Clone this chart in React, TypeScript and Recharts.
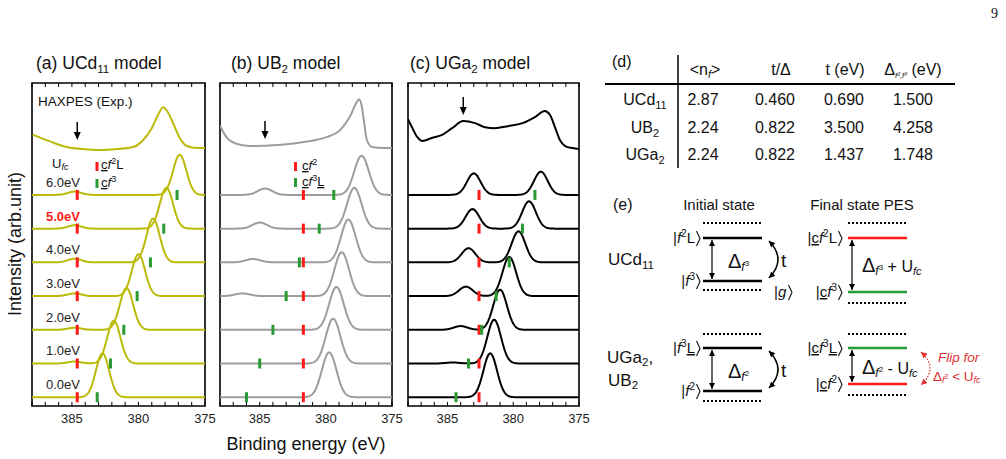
import React from 'react';
import {
  ComposedChart,
  Line,
  Scatter,
  XAxis,
  YAxis,
  ReferenceLine,
  ReferenceArea,
} from 'recharts';

const FONT = '"Liberation Sans", Arial, Helvetica, sans-serif';

// ---- shared axis settings -------------------------------------------------
const E_MIN = 375;
const E_MAX = 388;
const Y_MIN = -0.26;
const Y_MAX = 9.32;
const X_TICKS = [375, 380, 385];
const MINOR_TICKS = [375, 376, 377, 378, 379, 380, 381, 382, 383, 384, 385, 386, 387, 388];
const TICK_LEN = 0.12;

// U_fc values, one simulated trace each, stacked with unit offsets
const UFC_LABELS = ['0.0eV', '1.0eV', '2.0eV', '3.0eV', '4.0eV', '5.0eV', '6.0eV'];
const OFFSETS = [0, 1, 2, 3, 4, 5, 6];

// ---- (a) UCd11 model --------------------------------------------------------
const ucdMainE = [382.7, 381.85, 380.9, 380.0, 378.9, 377.9, 376.9];
const ucdMainH = [1.3, 1.27, 1.24, 1.24, 1.3, 1.21, 1.19];
const ucdSideE = [384.8, 384.8, 384.8, 384.8, 384.8, 384.8, 384.8];
const ucdSideH = [0.0, 0.06, 0.06, 0.08, 0.11, 0.1, 0.1];
const ucdRed = [384.6, 384.6, 384.6, 384.6, 384.6, 384.6, 384.6];
const ucdGreen = [383.1, 382.1, 381.1, 380.1, 379.1, 378.1, 377.1];
const ucdExpE = [387.95, 386.6, 385.4, 384.2, 382.9, 381.6, 380.4, 379.65, 379.0, 378.6, 378.15, 377.8, 377.4, 376.9, 376.35, 375.6, 375.0];
const ucdExpI = [7.79, 7.58, 7.42, 7.36, 7.33, 7.36, 7.42, 7.63, 7.98, 8.31, 8.6, 8.46, 8.13, 7.69, 7.45, 7.39, 7.39];

// ---- (b) UB2 model ----------------------------------------------------------
const ubMainE = [379.75, 379.45, 379.2, 378.8, 378.3, 377.85, 377.3];
const ubMainH = [1.33, 1.33, 1.27, 1.3, 1.27, 1.21, 1.16];
const ubSideE = [386.5, 386.3, 386.2, 386.3, 385.5, 385.0, 384.6];
const ubSideH = [0, 0, 0, 0.08, 0.1, 0.18, 0.19];
const ubRed = [381.7, 381.7, 381.7, 381.7, 381.7, 381.7, 381.7];
const ubGreen = [386.0, 385.0, 384.0, 383.0, 382.0, 380.5, 379.4];
const ubExpE = [388.0, 387.47, 386.7, 385.7, 383.7, 381.7, 379.9, 378.9, 378.2, 377.65, 377.5, 377.3, 377.1, 376.9, 376.5, 375.7, 375.0];
const ubExpI = [8.05, 7.69, 7.51, 7.45, 7.48, 7.57, 7.72, 7.93, 8.31, 8.76, 8.84, 8.66, 8.13, 7.63, 7.42, 7.39, 7.39];

// ---- (c) UGa2 model ---------------------------------------------------------
const ugaMainE = [381.75, 381.45, 381.0, 380.3, 379.6, 378.8, 377.9];
const ugaMainH = [1.3, 1.3, 1.19, 1.16, 0.92, 0.81, 0.69];
const ugaSideE = [384.6, 384.6, 384.0, 383.6, 383.4, 383.1, 383.0];
const ugaSideH = [0, 0.03, 0.11, 0.28, 0.42, 0.58, 0.64];
const ugaRed = [382.6, 382.6, 382.6, 382.6, 382.6, 382.6, 382.6];
const ugaGreen = [384.35, 383.4, 382.4, 381.3, 380.3, 379.3, 378.35];
const ugaExpE = [388.0, 387.7, 387.3, 386.9, 386.2, 385.4, 384.65, 383.8, 382.9, 382.15, 381.4, 380.4, 379.3, 378.35, 377.6, 377.2, 376.8, 376.45, 376.05, 375.5, 375.0];
const ugaExpI = [8.25, 8.01, 7.72, 7.6, 7.69, 7.78, 7.98, 8.19, 8.13, 8.01, 7.98, 8.04, 8.13, 8.31, 8.49, 8.37, 7.98, 7.63, 7.45, 7.39, 7.36];

// ---- table (d) -------------------------------------------------------------
const tableRows = ['UCd', 'UB', 'UGa'];
const tableRowSubs = ['11', '2', '2'];
const colNf = ['2.87', '2.24', '2.24'];
const colTDelta = ['0.460', '0.822', '0.822'];
const colT = ['0.690', '3.500', '1.437'];
const colDelta = ['1.500', '4.258', '1.748'];

// ---- spectrum building -----------------------------------------------------
const ENERGY_GRID: number[] = [];
for (let i = 0; i <= 260; i++) ENERGY_GRID.push(+(E_MIN + i * 0.05).toFixed(2));

function broadened(offset: number, peaks: [number, number][], sigma: number) {
  return ENERGY_GRID.map((e) => ({
    x: e,
    y: offset + peaks.reduce((s, [c, h]) => s + h * Math.exp(-((e - c) ** 2) / (2 * sigma * sigma)), 0),
  }));
}

const pairs = (xs: number[], ys: number[]) => xs.map((x, i) => ({ x, y: ys[i] }));

const markShape = (color: string) => (p: any) => (
  <rect x={p.cx - 1.5} y={p.cy - 5} width={3} height={10} fill={color} />
);

const ArrowShape = (p: any) => (
  <g>
    <line x1={p.cx} y1={p.cy - 18} x2={p.cx} y2={p.cy - 6} stroke="#000" strokeWidth={1.5} />
    <path d={`M${p.cx - 3.5},${p.cy - 8} L${p.cx + 3.5},${p.cy - 8} L${p.cx},${p.cy} Z`} fill="#000" />
  </g>
);

type PanelProps = {
  left: number;
  width: number;
  plotLeft: number;
  plotRight: number;
  color: string;
  sigma: number;
  mainE: number[];
  mainH: number[];
  sideE: number[];
  sideH: number[];
  red: number[];
  green: number[];
  expE: number[];
  expI: number[];
  arrow: { x: number; y: number };
};

function SpectraPanel(p: PanelProps) {
  const traces = OFFSETS.map((o, i) =>
    broadened(o, [[p.mainE[i], p.mainH[i]], [p.sideE[i], p.sideH[i]]], p.sigma)
  );
  const redPts = pairs(p.red, OFFSETS);
  const greenPts = pairs(p.green, OFFSETS);
  return (
    <div style={{ position: 'absolute', left: p.left, top: 0 }}>
      <ComposedChart
        width={p.width}
        height={459}
        margin={{ top: 83, bottom: 33, left: p.plotLeft - p.left, right: p.left + p.width - p.plotRight }}
      >
        <XAxis
          type="number"
          dataKey="x"
          domain={[E_MIN, E_MAX]}
          reversed
          allowDataOverflow
          ticks={X_TICKS}
          interval={0}
          tickLine={false}
          axisLine={false}
          height={20}
          tick={{ fontSize: 13, fill: '#222', fontFamily: FONT }}
        />
        <YAxis type="number" dataKey="y" domain={[Y_MIN, Y_MAX]} allowDataOverflow hide />
        <ReferenceArea x1={E_MIN} x2={E_MAX} y1={Y_MIN} y2={Y_MAX} fill="none" stroke="#000" strokeWidth={1.6} />
        {MINOR_TICKS.map((t) => (
          <ReferenceLine key={'b' + t} segment={[{ x: t, y: Y_MIN }, { x: t, y: Y_MIN + TICK_LEN }]} stroke="#000" strokeWidth={1} />
        ))}
        {MINOR_TICKS.map((t) => (
          <ReferenceLine key={'t' + t} segment={[{ x: t, y: Y_MAX }, { x: t, y: Y_MAX - TICK_LEN }]} stroke="#000" strokeWidth={1} />
        ))}
        {traces.map((d, i) => (
          <Line key={i} data={d} dataKey="y" type="linear" stroke={p.color} strokeWidth={2} dot={false} isAnimationActive={false} />
        ))}
        <Line data={pairs(p.expE, p.expI)} dataKey="y" type="monotone" stroke={p.color} strokeWidth={2} dot={false} isAnimationActive={false} />
        <Scatter data={redPts} shape={markShape('#ff1a1a')} isAnimationActive={false} />
        <Scatter data={greenPts} shape={markShape('#2a9a35')} isAnimationActive={false} />
        <Scatter data={[p.arrow]} shape={ArrowShape} isAnimationActive={false} />
      </ComposedChart>
    </div>
  );
}

const baseY = (o: number) => 397.2 - o * 33.72;

const UL = { textDecoration: 'underline' };

// thin closing angle bracket of a ket, drawn with its tip at (x, y - 4.5)
const KetClose = ({ x, y }: { x: number; y: number }) => (
  <polyline points={`${x - 3.5},${y - 12} ${x},${y - 4.5} ${x - 3.5},${y + 3}`} fill="none" stroke="#111" strokeWidth={1.1} />
);

// |  [c]  f ^sup  [L]  > : ket labels of the level scheme
function Ket({ x, y, core, sup, tail, tailUnder }: { x: number; y: number; core: boolean; sup: string; tail?: string; tailUnder?: boolean }) {
  return (
    <g>
      <text x={x - 5} y={y} fontSize={15} textAnchor="end">
        |{core ? <tspan style={UL}>c</tspan> : null}
        <tspan fontStyle="italic">f</tspan>
        <tspan fontSize={10} dy={-6}>{sup}</tspan>
        <tspan dy={6} style={tailUnder ? UL : undefined}>{tail ?? ''}</tspan>
      </text>
      <KetClose x={x} y={y} />
    </g>
  );
}

export default function App() {
  return (
    <div style={{ position: 'absolute', left: 0, top: 0, width: 1006, height: 459, background: '#fff', overflow: 'hidden', fontFamily: FONT }}>
      <SpectraPanel
        left={0} width={220} plotLeft={32} plotRight={205} color="#bbba08" sigma={0.5}
        mainE={ucdMainE} mainH={ucdMainH} sideE={ucdSideE} sideH={ucdSideH}
        red={ucdRed} green={ucdGreen} expE={ucdExpE} expI={ucdExpI} arrow={{ x: 384.6, y: 7.63 }}
      />
      <SpectraPanel
        left={210} width={200} plotLeft={220} plotRight={392} color="#9d9d9d" sigma={0.55}
        mainE={ubMainE} mainH={ubMainH} sideE={ubSideE} sideH={ubSideH}
        red={ubRed} green={ubGreen} expE={ubExpE} expI={ubExpI} arrow={{ x: 384.6, y: 7.66 }}
      />
      <SpectraPanel
        left={395} width={200} plotLeft={408} plotRight={579} color="#000" sigma={0.52}
        mainE={ugaMainE} mainH={ugaMainH} sideE={ugaSideE} sideH={ugaSideH}
        red={ugaRed} green={ugaGreen} expE={ugaExpE} expI={ugaExpI} arrow={{ x: 383.8, y: 8.37 }}
      />

      <svg width={1006} height={459} style={{ position: 'absolute', left: 0, top: 0, pointerEvents: 'none' }} fontFamily={FONT} fill="#111">
        <defs>
          <marker id="ahk" viewBox="0 0 10 10" refX="10" refY="5" markerWidth="6" markerHeight="6" markerUnits="userSpaceOnUse" orient="auto-start-reverse">
            <path d="M0,0 L10,5 L0,10 z" fill="#000" />
          </marker>
          <marker id="ahr" viewBox="0 0 10 10" refX="10" refY="5" markerWidth="6" markerHeight="6" markerUnits="userSpaceOnUse" orient="auto-start-reverse">
            <path d="M0,0 L10,5 L0,10 z" fill="#e03030" />
          </marker>
        </defs>

        <text x={991} y={18} fontSize={14} fontFamily='"Liberation Serif", "DejaVu Serif", serif'>9</text>

        {/* panel titles */}
        <text x={36} y={69} fontSize={17.5}>(a) UCd<tspan fontSize={11.5} dy={4}>11</tspan><tspan dy={-4}> model</tspan></text>
        <text x={231} y={69} fontSize={17.5}>(b) UB<tspan fontSize={11.5} dy={4}>2</tspan><tspan dy={-4}> model</tspan></text>
        <text x={410} y={69} fontSize={17.5}>(c) UGa<tspan fontSize={11.5} dy={4}>2</tspan><tspan dy={-4}> model</tspan></text>

        {/* axis titles */}
        <text x={21} y={244} fontSize={18} textAnchor="middle" transform="rotate(-90 21 244)">Intensity (arb.unit)</text>
        <text x={306} y={450} fontSize={18} textAnchor="middle">Binding energy (eV)</text>

        {/* panel (a) annotations */}
        <text x={38} y={106} fontSize={13.5}>HAXPES (Exp.)</text>
        <text x={52} y={168} fontSize={13}>U<tspan fontSize={9} dy={2} fontStyle="italic">fc</tspan></text>
        {UFC_LABELS.map((l, i) => (
          <text key={l} x={46} y={baseY(OFFSETS[i]) - 8} fontSize={13}
            fill={l === '5.0eV' ? '#ff1a1a' : '#222'} fontWeight={l === '5.0eV' ? 'bold' : 'normal'}>{l}</text>
        ))}
        <rect x={95.5} y={162} width={3} height={9} fill="#ff1a1a" />
        <text x={101} y={169} fontSize={13}><tspan style={UL}>c</tspan><tspan fontStyle="italic">f</tspan><tspan fontSize={9} dy={-5}>2</tspan><tspan dy={5}>L</tspan></text>
        <rect x={95.5} y={179} width={3} height={9} fill="#2a9a35" />
        <text x={101} y={187} fontSize={13}><tspan style={UL}>c</tspan><tspan fontStyle="italic">f</tspan><tspan fontSize={9} dy={-5}>3</tspan></text>

        {/* panel (b) legend */}
        <rect x={294} y={162} width={3} height={9} fill="#ff1a1a" />
        <text x={302} y={170} fontSize={13}><tspan style={UL}>c</tspan><tspan fontStyle="italic">f</tspan><tspan fontSize={9} dy={-5}>2</tspan></text>
        <rect x={294} y={178} width={3} height={9} fill="#2a9a35" />
        <text x={302} y={186} fontSize={13}><tspan style={UL}>c</tspan><tspan fontStyle="italic">f</tspan><tspan fontSize={9} dy={-5}>3</tspan><tspan dy={5} style={UL}>L</tspan></text>

        {/* (d) table */}
        <text x={612} y={67} fontSize={16}>(d)</text>
        <line x1={678} y1={55} x2={678} y2={168} stroke="#000" strokeWidth={1.5} />
        <line x1={605} y1={84} x2={955} y2={84} stroke="#000" strokeWidth={2} />
        <text x={705} y={75} fontSize={16} textAnchor="middle">&lt;n<tspan fontSize={11} dy={3} fontStyle="italic">f</tspan><tspan dy={-3}>&gt;</tspan></text>
        <text x={781} y={75} fontSize={16} textAnchor="middle">t/Δ</text>
        <text x={845} y={75} fontSize={16} textAnchor="middle">t (eV)</text>
        <text x={913} y={75} fontSize={16} textAnchor="middle">Δ<tspan fontSize={8} dy={3} fontStyle="italic">f²,f³</tspan><tspan dy={-3}> (eV)</tspan></text>
        {tableRows.map((r, i) => {
          const y = [105, 133, 160][i];
          return (
            <g key={r}>
              <text x={645} y={y} fontSize={16} textAnchor="middle">{r}<tspan fontSize={11} dy={4}>{tableRowSubs[i]}</tspan></text>
              <text x={703} y={y} fontSize={16} textAnchor="middle">{colNf[i]}</text>
              <text x={775} y={y} fontSize={16} textAnchor="middle">{colTDelta[i]}</text>
              <text x={844} y={y} fontSize={16} textAnchor="middle">{colT[i]}</text>
              <text x={913} y={y} fontSize={16} textAnchor="middle">{colDelta[i]}</text>
            </g>
          );
        })}

        {/* (e) level scheme */}
        <text x={613} y={210} fontSize={16}>(e)</text>
        <text x={719} y={210} fontSize={15} textAnchor="middle">Initial state</text>
        <text x={862} y={210} fontSize={15} textAnchor="middle">Final state PES</text>

        {/* UCd11 row */}
        <text x={608} y={265} fontSize={17}>UCd<tspan fontSize={11.5} dy={4}>11</tspan></text>
        <line x1={703} y1={223} x2={762} y2={223} stroke="#000" strokeWidth={2} strokeDasharray="2 2" />
        <line x1={703} y1={238} x2={762} y2={238} stroke="#000" strokeWidth={2.5} />
        <line x1={703} y1={281} x2={762} y2={281} stroke="#000" strokeWidth={2.5} />
        <line x1={703} y1={290} x2={762} y2={290} stroke="#000" strokeWidth={2} strokeDasharray="2 2" />
        <Ket x={700} y={243} core={false} sup="2" tail="L" />
        <Ket x={700} y={286} core={false} sup="3" />
        <line x1={712} y1={240} x2={712} y2={279} stroke="#000" strokeWidth={1.2} markerStart="url(#ahk)" markerEnd="url(#ahk)" />
        <text x={728} y={268} fontSize={20}>Δ<tspan fontSize={12} dy={3} fontStyle="italic">f</tspan><tspan fontSize={8} dy={-5}>3</tspan></text>
        <path d="M769,241 Q787,259.5 769,278" fill="none" stroke="#000" strokeWidth={1.5} markerStart="url(#ahk)" markerEnd="url(#ahk)" />
        <text x={781} y={267} fontSize={19}>t</text>
        <text x={774} y={297} fontSize={15}>|<tspan fontStyle="italic">g</tspan></text>
        <KetClose x={792} y={297} />

        <line x1={848} y1={223} x2={907} y2={223} stroke="#000" strokeWidth={2} strokeDasharray="2 2" />
        <line x1={848} y1={238} x2={907} y2={238} stroke="#ff1a1a" strokeWidth={2.5} />
        <line x1={848} y1={292} x2={907} y2={292} stroke="#2a9a35" strokeWidth={2.5} />
        <line x1={848} y1={303} x2={907} y2={303} stroke="#000" strokeWidth={2} strokeDasharray="2 2" />
        <Ket x={842} y={243} core sup="2" tail="L" />
        <Ket x={842} y={297} core sup="3" />
        <line x1={852} y1={240} x2={852} y2={290} stroke="#000" strokeWidth={1.2} markerStart="url(#ahk)" markerEnd="url(#ahk)" />
        <text x={862} y={272} fontSize={20}>Δ<tspan fontSize={12} dy={3} fontStyle="italic">f</tspan><tspan fontSize={8} dy={-5}>3</tspan><tspan dy={2} fontSize={16}>  + U</tspan><tspan fontSize={11} dy={3} fontStyle="italic">fc</tspan></text>

        {/* UGa2, UB2 row */}
        <text x={607} y={363} fontSize={17}>UGa<tspan fontSize={11.5} dy={3}>2</tspan><tspan dy={-3}>,</tspan></text>
        <text x={608} y={386} fontSize={17}>UB<tspan fontSize={11.5} dy={3}>2</tspan></text>
        <line x1={703} y1={334} x2={762} y2={334} stroke="#000" strokeWidth={2} strokeDasharray="2 2" />
        <line x1={703} y1={348} x2={762} y2={348} stroke="#000" strokeWidth={2.5} />
        <line x1={703} y1={391} x2={762} y2={391} stroke="#000" strokeWidth={2.5} />
        <line x1={703} y1={401} x2={762} y2={401} stroke="#000" strokeWidth={2} strokeDasharray="2 2" />
        <Ket x={700} y={353} core={false} sup="3" tail="L" tailUnder />
        <Ket x={700} y={396} core={false} sup="2" />
        <line x1={712} y1={350} x2={712} y2={389} stroke="#000" strokeWidth={1.2} markerStart="url(#ahk)" markerEnd="url(#ahk)" />
        <text x={728} y={378} fontSize={20}>Δ<tspan fontSize={12} dy={3} fontStyle="italic">f</tspan><tspan fontSize={8} dy={-5}>2</tspan></text>
        <path d="M769,351 Q787,369.5 769,388" fill="none" stroke="#000" strokeWidth={1.5} markerStart="url(#ahk)" markerEnd="url(#ahk)" />
        <text x={781} y={377} fontSize={19}>t</text>

        <line x1={848} y1={334} x2={907} y2={334} stroke="#000" strokeWidth={2} strokeDasharray="2 2" />
        <line x1={848} y1={348} x2={907} y2={348} stroke="#2a9a35" strokeWidth={2.5} />
        <line x1={848} y1={384} x2={907} y2={384} stroke="#ff1a1a" strokeWidth={2.5} />
        <line x1={848} y1={395} x2={907} y2={395} stroke="#000" strokeWidth={2} strokeDasharray="2 2" />
        <Ket x={842} y={353} core sup="3" tail="L" tailUnder />
        <Ket x={842} y={389} core sup="2" />
        <line x1={852} y1={350} x2={852} y2={382} stroke="#000" strokeWidth={1.2} markerStart="url(#ahk)" markerEnd="url(#ahk)" />
        <text x={862} y={374} fontSize={20}>Δ<tspan fontSize={12} dy={3} fontStyle="italic">f</tspan><tspan fontSize={8} dy={-5}>2</tspan><tspan dy={2} fontSize={16}>  - U</tspan><tspan fontSize={11} dy={3} fontStyle="italic">fc</tspan></text>
        <path d="M921,352 Q939,368 921,385" fill="none" stroke="#e03030" strokeWidth={1.2} strokeDasharray="1.5 1.5" markerStart="url(#ahr)" markerEnd="url(#ahr)" />
        <text x={938} y={362} fontSize={13.5} fill="#e03030" fontStyle="italic">Flip for</text>
        <text x={933} y={381} fontSize={13.5} fill="#e03030">Δ<tspan fontSize={9} dy={2} fontStyle="italic">f</tspan><tspan fontSize={7} dy={-4}>2</tspan><tspan dy={2}> &lt; U</tspan><tspan fontSize={9} dy={2} fontStyle="italic">fc</tspan></text>
      </svg>
    </div>
  );
}
